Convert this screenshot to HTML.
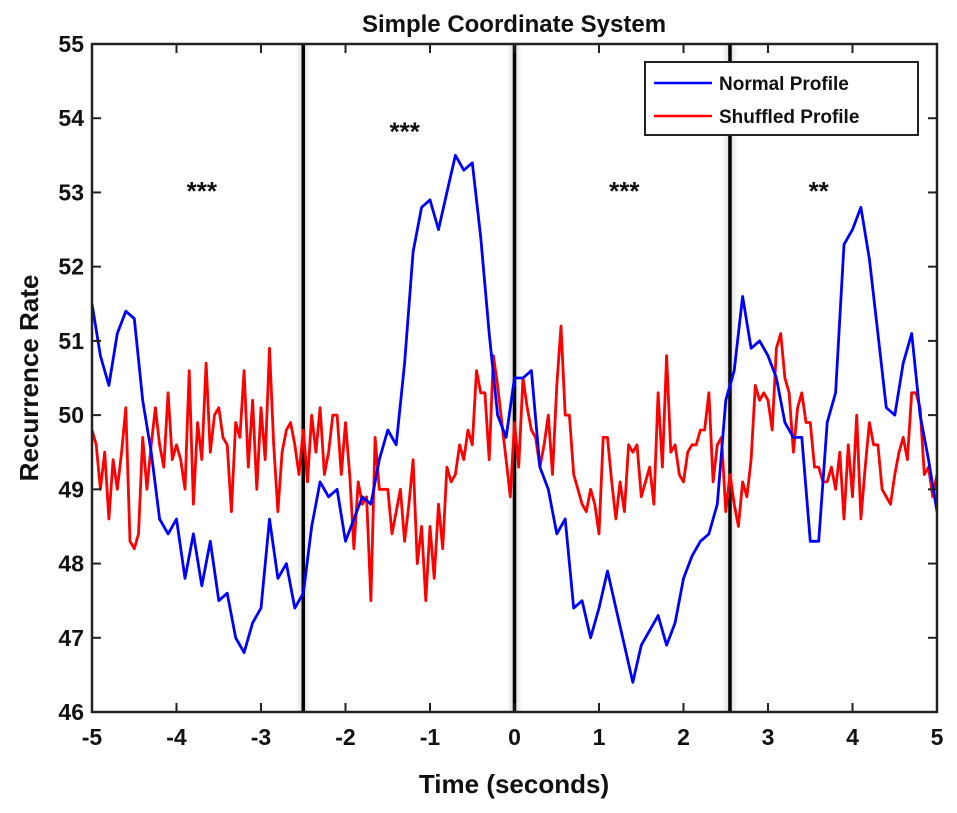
<!DOCTYPE html>
<html><head><meta charset="utf-8"><style>
body{margin:0;background:#fff;}
svg text{font-family:"Liberation Sans",Arial,sans-serif;font-weight:bold;fill:#111;}
</style></head><body>
<svg id="chart" width="957" height="808" viewBox="0 0 957 808" xmlns="http://www.w3.org/2000/svg">
<defs><linearGradient id="sh" x1="0" x2="1"><stop offset="0" stop-color="#ddd" stop-opacity="0"/><stop offset="0.5" stop-color="#ccc" stop-opacity="0.8"/><stop offset="1" stop-color="#ddd" stop-opacity="0"/></linearGradient>
<clipPath id="clip"><rect x="92" y="44" width="845" height="668"/></clipPath></defs>
<rect width="957" height="808" fill="#fff"/>
<g id="grid"></g>
<g id="marks" clip-path="url(#clip)"></g>
<g id="axes"></g>
<text x="514" y="32" font-size="24" text-anchor="middle">Simple Coordinate System</text>
<text x="514" y="793" font-size="26" text-anchor="middle">Time (seconds)</text>
<text transform="translate(38,378) rotate(-90)" font-size="26" text-anchor="middle">Recurrence Rate</text>
<g>
<rect x="645" y="62" width="273" height="73" fill="#fff" stroke="#222" stroke-width="2"/>
<line x1="654" y1="83" x2="712" y2="83" stroke="#00f" stroke-width="2.5"/>
<text x="719" y="90" font-size="19">Normal Profile</text>
<line x1="654" y1="116" x2="712" y2="116" stroke="#f00" stroke-width="2.5"/>
<text x="719" y="123" font-size="19">Shuffled Profile</text>
</g>
</svg>
<script>
const blueStart=-5, blueStep=0.1;
const blueValues=[51.5,50.8,50.4,51.1,51.4,51.3,50.2,49.5,48.6,48.4,48.6,47.8,48.4,47.7,48.3,47.5,47.6,47.0,46.8,47.2,47.4,48.6,47.8,48.0,47.4,47.6,
48.5,49.1,48.9,49.0,48.3,48.6,48.9,48.8,49.4,49.8,49.6,50.7,52.2,52.8,52.9,52.5,53.0,53.5,53.3,53.4,52.4,51.1,50.0,49.7,50.5,
50.5,50.6,49.3,49.0,48.4,48.6,47.4,47.5,47.0,47.4,47.9,47.4,46.9,46.4,46.9,47.1,47.3,46.9,47.2,47.8,48.1,48.3,48.4,48.8,50.2,
50.6,51.6,50.9,51.0,50.8,50.5,49.9,49.7,49.7,48.3,48.3,49.9,50.3,52.3,52.5,52.8,52.1,51.1,50.1,50.0,50.7,51.1,50.0,49.4,48.7];
const redStart=-5, redStep=0.05;
const redValues=[49.8,49.6,49.0,49.5,48.6,49.4,49.0,49.5,50.1,48.3,48.2,48.4,49.7,49.0,49.6,50.1,49.6,49.3,50.3,49.4,49.6,49.4,49.0,50.6,48.8,49.9,49.4,50.7,49.5,50.0,50.1,49.7,49.6,48.7,49.9,49.7,50.6,49.3,50.2,49.0,50.1,49.4,50.9,49.6,48.7,49.5,49.8,49.9,49.6,49.2,49.8,
49.1,50.0,49.5,50.1,49.2,49.5,50.0,50.0,49.2,49.9,49.2,48.2,49.1,48.8,48.9,47.5,49.7,49.0,49.0,49.0,48.4,48.7,49.0,48.3,48.8,49.4,48.0,48.5,47.5,48.5,47.8,48.8,48.2,49.3,49.1,49.2,49.6,49.4,49.8,49.6,50.6,50.3,50.3,49.4,50.8,50.4,49.9,49.4,48.9,49.9,
49.3,50.5,50.1,49.8,49.7,49.3,49.6,50.0,49.2,50.4,51.2,50.0,50.0,49.2,49.0,48.8,48.7,49.0,48.8,48.4,49.7,49.7,49.1,48.6,49.1,48.7,49.6,49.5,49.6,48.9,49.1,49.3,48.8,50.3,49.3,50.8,49.5,49.6,49.2,49.1,49.5,49.6,49.6,49.8,49.8,50.3,49.1,49.6,49.7,48.7,
49.2,48.8,48.5,49.1,48.9,49.4,50.4,50.2,50.3,50.2,49.8,50.9,51.1,50.5,50.3,49.5,50.1,50.3,49.9,49.9,49.3,49.3,49.1,49.1,49.3,49.0,49.5,48.6,49.6,48.9,50.0,48.6,49.3,49.9,49.6,49.6,49.0,48.9,48.8,49.2,49.5,49.7,49.4,50.3,50.3,50.1,49.2,49.3,48.9,49.2];
const xTicks=[-5,-4,-3,-2,-1,0,1,2,3,4,5];
const yTicks=[46,47,48,49,50,51,52,53,54,55];
const dividers=[-2.5,0,2.55];
const annotations=[{x:-3.7,y:52.9,t:"***"},{x:-1.3,y:53.7,t:"***"},{x:1.3,y:52.9,t:"***"},{x:3.6,y:52.9,t:"**"}];

const L=92,R=937,T=44,B=712;
const xs=v=>L+(v+5)/10*(R-L);
const ys=v=>B-(v-46)/9*(B-T);
const NS="http://www.w3.org/2000/svg";
function mk(tag,attrs,parent){const e=document.createElementNS(NS,tag);for(const k in attrs)e.setAttribute(k,attrs[k]);parent.appendChild(e);return e;}
const marks=document.getElementById('marks'),axes=document.getElementById('axes'),grid=document.getElementById('grid');
dividers.forEach(d=>{
  const s=mk('rect',{x:xs(d)-8,y:T,width:16,height:B-T,fill:'url(#sh)'},grid);
  
  
  const l=mk('line',{x1:xs(d),x2:xs(d),y1:T,y2:B,stroke:'#000','stroke-width':3.5},grid);
  
  
});
function path(vals,start,step,color,name){
  let d='';vals.forEach((v,i)=>{d+=(i?'L':'M')+xs(start+i*step).toFixed(1)+','+ys(v).toFixed(1);});
  const p=mk('path',{d:d,fill:'none',stroke:color,'stroke-width':2.8,'stroke-linejoin':'round'},marks);
  
  
}
path(redValues,redStart,redStep,'#f00','shuffled-profile-line');
path(blueValues,blueStart,blueStep,'#00f','normal-profile-line');
annotations.forEach(a=>{
  const t=mk('text',{x:xs(a.x),y:ys(a.y),'font-size':26,'text-anchor':'middle'},axes);
  t.textContent=a.t;
  
  
});
const fr=mk('rect',{x:L,y:T,width:R-L,height:B-T,fill:'none',stroke:'#222','stroke-width':2.5},axes);


xTicks.forEach(v=>{
  mk('line',{x1:xs(v),x2:xs(v),y1:B,y2:B-9,stroke:'#222','stroke-width':2},axes);
  mk('line',{x1:xs(v),x2:xs(v),y1:T,y2:T+9,stroke:'#222','stroke-width':2},axes);
  const t=mk('text',{x:xs(v),y:B+33,'font-size':23,'text-anchor':'middle'},axes);
  t.textContent=v;
  
  
});
yTicks.forEach(v=>{
  mk('line',{x1:L,x2:L+9,y1:ys(v),y2:ys(v),stroke:'#222','stroke-width':2},axes);
  mk('line',{x1:R,x2:R-9,y1:ys(v),y2:ys(v),stroke:'#222','stroke-width':2},axes);
  const t=mk('text',{x:L-8,y:ys(v)+8,'font-size':23,'text-anchor':'end'},axes);
  t.textContent=v;
  
  
});
</script>
</body></html>
